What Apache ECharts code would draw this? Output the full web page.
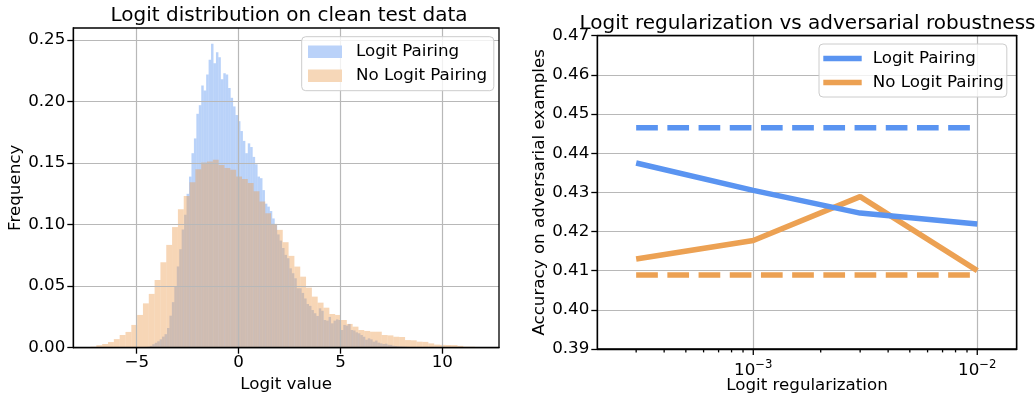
<!DOCTYPE html>
<html><head><meta charset="utf-8">
<script src="https://cdn.jsdelivr.net/npm/echarts@6/dist/echarts.min.js"></script>
<style>html,body{margin:0;padding:0;background:#fff}#c{width:1036px;height:394px}</style>
</head><body><div id="c"></div>
<script>
// ---------------- data ----------------
const seriesNames = ['Logit Pairing', 'No Logit Pairing'];

// Left panel: histograms of logit values (frequency per bin)
const lpBinStart = -4.716;
const lpBinWidth = 0.1202;
const lpFreq = [
  0.0005,0.0006,0.0008,0.0015,0.0028,0.004,0.0052,0.0068,0.009,0.011,
  0.016,0.026,0.037,0.050,0.066,0.080,0.096,0.108,0.125,0.139,
  0.158,0.170,0.190,0.197,0.213,0.209,0.222,0.234,0.247,0.231,
  0.240,0.236,0.218,0.223,0.222,0.211,0.203,0.196,0.189,0.184,
  0.176,0.168,0.158,0.166,0.163,0.155,0.149,0.139,0.1377,0.128,
  0.117,0.1146,0.111,0.105,0.100,0.092,0.087,0.081,0.0754,0.0727,
  0.0645,0.0605,0.0564,0.0483,0.0483,0.0445,0.040,0.0355,0.034,0.0306,
  0.028,0.0258,0.032,0.030,0.0225,0.022,0.025,0.0198,0.022,0.023,
  0.0225,0.0144,0.0185,0.018,0.0193,0.0144,0.014,0.0125,0.0117,0.0103,
  0.0089,0.0065,0.0076,0.0068,0.0049,0.0058,0.0041,0.0035,0.003,0.0033,
  0.0024,0.0023,0.0016,0.0014,0.0011,0.001,0.0009,0.0008,0.0006,0.0005,
  0.0005,0.0004,0.0003,0.0002
];
const nlpBinStart = -7.552;
const nlpBinWidth = 0.2859;
const nlpFreq = [
  0.0004,0.0008,0.002,0.003,0.0046,0.007,0.0103,0.0128,0.0185,0.0266,
  0.036,0.0437,0.055,0.0694,0.0835,0.098,0.1125,0.1233,0.1345,0.145,
  0.1504,0.1512,0.1526,0.1485,0.1459,0.1445,0.139,0.137,0.1337,0.127,
  0.1187,0.1093,0.1006,0.0957,0.0857,0.0746,0.0659,0.0577,0.0488,0.0415,
  0.0366,0.0325,0.0274,0.0266,0.0225,0.0193,0.0171,0.0144,0.0136,0.013,
  0.013,0.0103,0.0100,0.0089,0.0087,0.0062,0.006,0.0049,0.0047,0.0035,
  0.0025,0.0023,0.0022,0.0021,0.0015,0.0008,0.0008,0.0006
];
const histXTicks = [-5, 0, 5, 10];
const histYTicks = [0, 0.05, 0.10, 0.15, 0.20, 0.25];

// Right panel: accuracy vs logit regularization
const regValues = [3e-4, 1e-3, 3e-3, 1e-2];
const lpAccuracy = [0.4375, 0.4305, 0.4247, 0.4219];
const nlpAccuracy = [0.4130, 0.4177, 0.4289, 0.4100];
const baselineRange = [3e-4, 1e-2];
const lpBaseline = 0.4465;
const nlpBaseline = 0.4089;
const regMajorTicks = [1e-3, 1e-2];
const regMinorTicks = [3e-4,4e-4,5e-4,6e-4,7e-4,8e-4,9e-4,2e-3,3e-3,4e-3,5e-3,6e-3,7e-3,8e-3,9e-3];
const accTicks = [0.39, 0.40, 0.41, 0.42, 0.43, 0.44, 0.45, 0.46, 0.47];

// ---------------- styles ----------------
const FONT = 'DejaVu Sans';
const BLUE = '#5a94f1';
const ORANGE = '#eca153';
const BLUE_FILL = 'rgba(88,147,240,0.42)';
const ORANGE_FILL = 'rgba(235,157,80,0.42)';
const AXIS_COL = '#000';
const GRID_COL = '#b8b8b8';
const FS = 16.7;
const REG_MIN = 2.012e-4, REG_MAX = 0.015;

function binsToData(start, width, freq) {
  return freq.map((f, i) => [start + i * width, start + (i + 1) * width, f]);
}
function histRender(fill) {
  return function (params, api) {
    const p0 = api.coord([api.value(0), api.value(2)]);
    const p1 = api.coord([api.value(1), 0]);
    return {
      type: 'rect',
      shape: { x: p0[0], y: p0[1], width: p1[0] - p0[0], height: p1[1] - p0[1] },
      style: { fill: fill }
    };
  };
}
function tickRender(len) {
  return function (params, api) {
    const p = api.coord([api.value(0), 0.39]);
    return {
      type: 'line',
      shape: { x1: p[0], y1: p[1], x2: p[0], y2: p[1] + len },
      style: { stroke: AXIS_COL, lineWidth: 1.3 }
    };
  };
}
const minus = v => (v < 0 ? '\u2212' + Math.abs(v) : String(v));
const nameStyle = { fontSize: FS, fontFamily: FONT, color: AXIS_COL };
const labelBase = { fontSize: FS, fontFamily: FONT, color: AXIS_COL };
const frameAxis = {
  axisLine: { show: true, onZero: false, lineStyle: { color: AXIS_COL, width: 1.3 } },
  axisTick: { show: false }, axisLabel: { show: false }, splitLine: { show: false }, z: 5
};

const chart = echarts.init(document.getElementById('c'), null, { renderer: 'canvas' });
const option = {
  animation: false,
  backgroundColor: '#fff',
  graphic: [
    { type: 'text', x: 289, y: 15.3, silent: true,
      style: { text: 'Logit distribution on clean test data', fontSize: 20, fontFamily: FONT, fill: '#000', textAlign: 'center', textVerticalAlign: 'middle' } },
    { type: 'text', x: 807.5, y: 24, silent: true,
      style: { text: 'Logit regularization vs adversarial robustness', fontSize: 20, fontFamily: FONT, fill: '#000', textAlign: 'center', textVerticalAlign: 'middle' } }
  ],
  grid: [
    { left: 73.3, top: 28, width: 425.7, height: 319.7, show: true, borderColor: AXIS_COL, borderWidth: 1.3, z: 4,
      backgroundColor: 'transparent', containLabel: false, outerBoundsMode: 'none' },
    { left: 597.3, top: 35.7, width: 419.4, height: 313.3, show: true, borderColor: AXIS_COL, borderWidth: 1.3, z: 4,
      backgroundColor: 'transparent', containLabel: false, outerBoundsMode: 'none' }
  ],
  legend: [
    { left: 301.7, top: 36.7, orient: 'vertical', selectedMode: false, z: 6,
      padding: [5, 6.7, 5, 6.3], itemGap: 4, itemWidth: 34, itemHeight: 12.4,
      backgroundColor: 'rgba(255,255,255,0.8)', borderColor: '#cccccc', borderWidth: 1, borderRadius: 4,
      textStyle: { fontSize: FS, fontFamily: FONT, color: '#000', lineHeight: 20, padding: [0, 0, 0, 9] },
      data: [
        { name: seriesNames[0], icon: 'rect', itemStyle: { color: '#bad2f9', borderWidth: 0 } },
        { name: seriesNames[1], icon: 'rect', itemStyle: { color: '#f6d7b8', borderWidth: 0 } }
      ] },
    { left: 819, top: 44, orient: 'vertical', selectedMode: false, z: 6,
      padding: [4.5, 3, 4.5, 4.3], itemGap: 4, itemWidth: 38.4, itemHeight: 5.5,
      backgroundColor: 'rgba(255,255,255,0.8)', borderColor: '#cccccc', borderWidth: 1, borderRadius: 4,
      textStyle: { fontSize: FS, fontFamily: FONT, color: '#000', lineHeight: 20, padding: [0, 0, 0, 6] },
      data: [
        { name: seriesNames[0], icon: 'rect', itemStyle: { color: BLUE, borderWidth: 0 } },
        { name: seriesNames[1], icon: 'rect', itemStyle: { color: ORANGE, borderWidth: 0 } }
      ] }
  ],
  xAxis: [
    { type: 'value', gridIndex: 0, min: -8.112, max: 12.783, z: 3,
      axisLine: { onZero: false, lineStyle: { color: AXIS_COL, width: 1.3 } },
      axisTick: { customValues: histXTicks, length: 6, lineStyle: { color: AXIS_COL, width: 1.3 } },
      axisLabel: Object.assign({ customValues: histXTicks, margin: 6, formatter: minus }, labelBase),
      splitLine: { show: true, lineStyle: { color: GRID_COL, width: 1.2 } },
      name: 'Logit value', nameLocation: 'middle', nameGap: 28, nameMoveOverlap: false, nameTextStyle: nameStyle },
    { type: 'log', logBase: 10, gridIndex: 1, min: REG_MIN, max: REG_MAX,
      axisLine: { onZero: false, lineStyle: { color: AXIS_COL, width: 1.3 } },
      axisTick: { show: false },
      axisLabel: Object.assign({
        margin: 10,
        formatter: function (v) {
          const e = Math.round(Math.log10(v));
          if (Math.abs(Math.log10(v) - e) > 1e-6) return '';
          return '{b|10}{s|' + (e < 0 ? '\u2212' : '') + Math.abs(e) + '}';
        },
        rich: {
          b: { fontSize: FS, fontFamily: FONT, color: AXIS_COL, lineHeight: 24 },
          s: { fontSize: 11.7, fontFamily: FONT, color: AXIS_COL, verticalAlign: 'top' }
        }
      }, labelBase),
      splitLine: { show: true, lineStyle: { color: GRID_COL, width: 1.2 } },
      minorTick: { show: false }, minorSplitLine: { show: false },
      name: 'Logit regularization', nameLocation: 'middle', nameGap: 28, nameMoveOverlap: false, nameTextStyle: nameStyle },
    Object.assign({ type: 'log', logBase: 10, gridIndex: 1, position: 'top', min: REG_MIN, max: REG_MAX }, frameAxis)
  ],
  yAxis: [
    { type: 'value', gridIndex: 0, min: 0, max: 0.2597, z: 3,
      axisLine: { onZero: false, lineStyle: { color: AXIS_COL, width: 1.3 } },
      axisTick: { customValues: histYTicks, length: 6, lineStyle: { color: AXIS_COL, width: 1.3 } },
      axisLabel: Object.assign({ customValues: histYTicks, margin: 8, formatter: v => v.toFixed(2) }, labelBase),
      splitLine: { show: true, lineStyle: { color: GRID_COL, width: 1.2 } },
      name: 'Frequency', nameLocation: 'middle', nameGap: 49, nameRotate: 90, nameMoveOverlap: false, nameTextStyle: nameStyle },
    { type: 'value', gridIndex: 1, min: 0.39, max: 0.47,
      axisLine: { onZero: false, lineStyle: { color: AXIS_COL, width: 1.3 } },
      axisTick: { customValues: accTicks, length: 6, lineStyle: { color: AXIS_COL, width: 1.3 } },
      axisLabel: Object.assign({ customValues: accTicks, margin: 8, formatter: v => v.toFixed(2) }, labelBase),
      splitLine: { show: true, lineStyle: { color: GRID_COL, width: 1.2 } },
      name: 'Accuracy on adversarial examples', nameLocation: 'middle', nameGap: 49, nameRotate: 90, nameMoveOverlap: false, nameTextStyle: nameStyle },
    Object.assign({ type: 'value', gridIndex: 1, position: 'right', min: 0.39, max: 0.47 }, frameAxis)
  ],
  series: [
    { name: seriesNames[0], type: 'custom', xAxisIndex: 0, yAxisIndex: 0, z: 1,
      renderItem: histRender(BLUE_FILL), encode: { x: [0, 1], y: 2 },
      itemStyle: { color: BLUE }, data: binsToData(lpBinStart, lpBinWidth, lpFreq) },
    { name: seriesNames[1], type: 'custom', xAxisIndex: 0, yAxisIndex: 0, z: 1,
      renderItem: histRender(ORANGE_FILL), encode: { x: [0, 1], y: 2 },
      itemStyle: { color: ORANGE }, data: binsToData(nlpBinStart, nlpBinWidth, nlpFreq) },
    { name: 'No LP baseline', type: 'line', xAxisIndex: 1, yAxisIndex: 1, symbol: 'none', silent: true,
      lineStyle: { color: ORANGE, width: 5.5, type: [21.7, 9.5] },
      data: baselineRange.map(x => [x, nlpBaseline]) },
    { name: 'LP baseline', type: 'line', xAxisIndex: 1, yAxisIndex: 1, symbol: 'none', silent: true,
      lineStyle: { color: BLUE, width: 5.5, type: [21.7, 9.5] },
      data: baselineRange.map(x => [x, lpBaseline]) },
    { name: seriesNames[1], type: 'line', xAxisIndex: 1, yAxisIndex: 1, symbol: 'none', silent: true,
      itemStyle: { color: ORANGE }, lineStyle: { color: ORANGE, width: 5.5 },
      data: regValues.map((x, i) => [x, nlpAccuracy[i]]) },
    { name: seriesNames[0], type: 'line', xAxisIndex: 1, yAxisIndex: 1, symbol: 'none', silent: true,
      itemStyle: { color: BLUE }, lineStyle: { color: BLUE, width: 5.5 },
      data: regValues.map((x, i) => [x, lpAccuracy[i]]) },
    { name: 'major ticks', type: 'custom', xAxisIndex: 1, yAxisIndex: 1, clip: false, silent: true,
      renderItem: tickRender(6), encode: { x: 0 }, data: regMajorTicks.map(v => [v]) },
    { name: 'minor ticks', type: 'custom', xAxisIndex: 1, yAxisIndex: 1, clip: false, silent: true,
      renderItem: tickRender(3.4), encode: { x: 0 }, data: regMinorTicks.map(v => [v]) }
  ]
};
chart.setOption(option);
</script>
</body></html>
